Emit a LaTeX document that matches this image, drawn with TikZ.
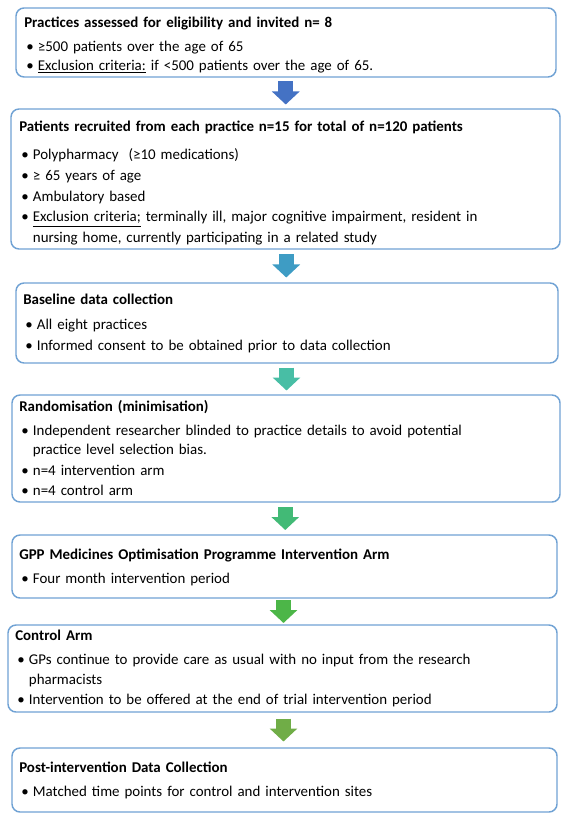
\documentclass[tikz,border=0pt]{standalone}
\usepackage{fontspec}
\setmainfont{Carlito}
\usetikzlibrary{arrows.meta, positioning, calc, fit}
\definecolor{boxblue}{RGB}{112,162,212}
\definecolor{arrA}{RGB}{68,114,196}
\definecolor{arrB}{RGB}{62,156,196}
\definecolor{arrC}{RGB}{72,190,165}
\definecolor{arrD}{RGB}{66,186,118}
\definecolor{arrE}{RGB}{76,182,72}
\definecolor{arrF}{RGB}{112,173,71}
\tikzset{
  stagebox/.style={rectangle, draw=boxblue, line width=1.1pt,
    rounded corners=6pt, inner sep=0pt},
  stagetext/.style={anchor=base west, inner sep=0pt, text width=410pt,
    align=left, font=\fontsize{11.2}{15.5}\selectfont},
  flow/.style={line width=11.25pt, -{Triangle[length=9.75pt, width=20.25pt]}}
}
\newcommand{\bul}{\hspace*{1.5pt}\makebox[8.75pt][l]{\textbullet}}
\newcommand{\cont}{\hspace*{10.25pt}}
\newcommand{\flowarrow}[3]{%
  \draw[flow, #3] ($(#1.south)!0.5!(#2.north)+(0,-11.5)$) -- ++(0,23);}

\begin{document}
\begin{tikzpicture}[x=0.75pt, y=-0.75pt]
  \useasboundingbox (0,0) rectangle (570,823);

  % Boxes
  \node[stagebox, fit={(16,8) (556,77)}] (prac) {};
  \node[stagebox, fit={(11,109) (560,249)}] (recruit) {};
  \node[stagebox, fit={(16,283) (558,363)}] (baseline) {};
  \node[stagebox, fit={(12,395) (560,502)}] (random) {};
  \node[stagebox, fit={(12,535) (557,598)}] (gpp) {};
  \node[stagebox, fit={(8,625) (557,712)}] (control) {};
  \node[stagebox, fit={(12,748) (557,812)}] (post) {};

  % Texts
  \node[stagetext] (pracText) at (24,28) {\textbf{Practices assessed for eligibility and invited n= 8}\\[2.5pt]
    \bul ≥500 patients over the age of 65\\[-1.5pt]
    \bul \underline{Exclusion criteria:} if <500 patients over the age of 65.};
  \node[stagetext] (recruitText) at (19,132) {\textbf{Patients recruited from each practice n=15 for total of n=120 patients}\\[5.5pt]
    \bul Polypharmacy\ \ (≥10 medications)\\
    \bul ≥ 65 years of age\\
    \bul Ambulatory based\\
    \bul \underline{Exclusion criteria;} terminally ill, major cognitive impairment, resident in\\
    \cont nursing home, currently participating in a related study};
  \node[stagetext] (baselineText) at (23,304) {\textbf{Baseline data collection}\\[3.5pt]
    \bul All eight practices\\
    \bul Informed consent to be obtained prior to data collection};
  \node[stagetext] (randomText) at (19,411) {\textbf{Randomisation (minimisation)}\\[2.5pt]
    \bul Independent researcher blinded to practice details to avoid potential\\[-1pt]
    \cont practice level selection bias.\\
    \bul n=4 intervention arm\\
    \bul n=4 control arm};
  \node[stagetext] (gppText) at (19,559) {\textbf{GPP Medicines Optimisation Programme Intervention Arm}\\[3pt]
    \bul Four month intervention period};
  \node[stagetext] (controlText) at (15,640) {\textbf{Control Arm}\\[3pt]
    \bul GPs continue to provide care as usual with no input from the research\\[-1pt]
    \cont pharmacists\\
    \bul Intervention to be offered at the end of trial intervention period};
  \node[stagetext] (postText) at (19,772) {\textbf{Post-intervention Data Collection}\\[3pt]
    \bul Matched time points for control and intervention sites};

  % Arrows
  \flowarrow{prac}{recruit}{arrA}
  \flowarrow{recruit}{baseline}{arrB}
  \flowarrow{baseline}{random}{arrC}
  \flowarrow{random}{gpp}{arrD}
  \flowarrow{gpp}{control}{arrE}
  \flowarrow{control}{post}{arrF}
\end{tikzpicture}
\end{document}
